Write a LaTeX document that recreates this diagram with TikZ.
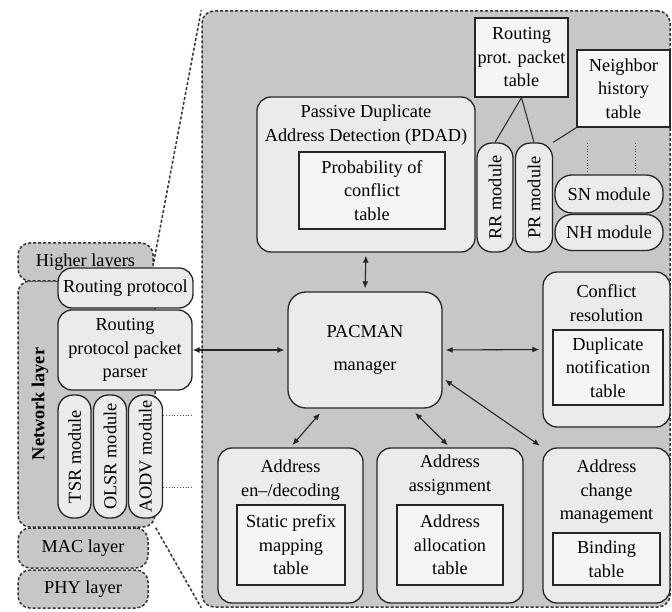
\documentclass[tikz,border=0pt]{standalone}
\usepackage{fontspec}
\setmainfont{Liberation Serif}
\usepackage{tikz}
\usetikzlibrary{arrows.meta}
\definecolor{layergray}{gray}{0.78}
\definecolor{boxgray}{gray}{0.92}
\definecolor{tablegray}{gray}{0.96}

\begin{document}
\begin{tikzpicture}[x=1pt,y=-1pt,font=\fontsize{18.3}{23.5}\selectfont,
  layer/.style={draw=black!80,dash pattern=on 3pt off 2pt,line width=1.5pt,fill=layergray,rounded corners=12pt,inner sep=0pt},
  box/.style={draw=black!85,line width=1.3pt,fill=boxgray,rounded corners=14pt,inner sep=0pt,align=center},
  pill/.style={box,rounded corners=15pt},
  tbl/.style={draw=black!85,line width=1.3pt,fill=tablegray,inner sep=0pt,align=center},
  txt/.style={inner sep=0pt,align=center},
  link/.style={line width=1.1pt,black!85,{Latex[length=7pt,width=6pt]}-{Latex[length=7pt,width=6pt]},shorten <=3pt,shorten >=3pt}]
  \useasboundingbox (0,0) rectangle (672,612);

  \node[layer,minimum width=468pt,minimum height=596pt] (zoom) at (436,309) {};

  \node[layer,minimum width=137pt,minimum height=246pt] (netlayer) at (86.5,404) {};
  \node[layer,minimum width=135pt,minimum height=38pt] (higher) at (85.5,262) {Higher layers};
  \node[layer,minimum width=130pt,minimum height=40pt] (mac) at (83,548) {MAC layer};
  \node[layer,minimum width=130pt,minimum height=38pt] (phy) at (83,589) {PHY layer};
  \node[txt] (netlabel) at (40,404) {\rotatebox{90}{\bfseries Network layer}};
  \draw[black!80,dash pattern=on 3pt off 2pt,line width=1.5pt] (higher.east) -- (zoom.north west);
  \draw[black!80,dash pattern=on 3pt off 2pt,line width=1.5pt] (netlayer.south east) -- (zoom.south west);

  \node[box,minimum width=135pt,minimum height=40pt] (rp) at (125.5,288) {Routing protocol};
  \node[box,minimum width=134pt,minimum height=80pt] (parser) at (125,350) {Routing\\protocol packet\\parser};
  \node[pill,minimum width=33pt,minimum height=123pt] (tsr) at (74.5,456.5) {\rotatebox{90}{TSR module}};
  \node[pill,minimum width=33pt,minimum height=123pt] (olsr) at (110,456.5) {\rotatebox{90}{OLSR module}};
  \node[pill,minimum width=34pt,minimum height=123pt] (aodv) at (145.5,456.5) {\rotatebox{90}{AODV module}};
  \coordinate (d1) at (192,415);
  \coordinate (d2) at (192,487);
  \draw[dotted,thick,black!70] (aodv.east |- d1) -- (d1);
  \draw[dotted,thick,black!70] (aodv.east |- d2) -- (d2);

  \node[tbl,minimum width=93pt,minimum height=79pt] (rpt) at (521.5,57.5) {Routing\\prot. packet\\table};
  \node[tbl,minimum width=93pt,minimum height=77pt] (nht) at (623.5,88.5) {Neighbor\\history\\table};

  \node[box,minimum width=218pt,minimum height=155pt] (pdad) at (366,174.5) {};
  \node[txt] (pdadtitle) at (366,125) {Passive Duplicate\\Address Detection (PDAD)};
  \node[tbl,minimum width=146pt,minimum height=77pt] (poc) at (372,190.5) {Probability of\\conflict\\table};

  \node[pill,minimum width=36pt,minimum height=109pt] (rr) at (495,197.5) {\rotatebox{90}{RR module}};
  \node[pill,minimum width=37pt,minimum height=109pt] (pr) at (534,197.5) {\rotatebox{90}{PR module}};
  \node[pill,minimum width=108pt,minimum height=38pt,rounded corners=17pt] (sn) at (609,194) {SN module};
  \node[pill,minimum width=108pt,minimum height=36pt,rounded corners=17pt] (nh) at (609,232.5) {NH module};
  \coordinate (v1) at (587,143);
  \coordinate (v2) at (635,143);
  \draw[dotted,thick,black!70] (v1) -- (v1 |- sn.north);
  \draw[dotted,thick,black!70] (v2) -- (v2 |- sn.north);
  \draw[line width=1pt,black!85] (rr.north) -- (rpt.south) -- (pr.north);
  \draw[line width=1pt,black!85] (pr.north east) -- (nht.south west);

  \node[box,minimum width=154pt,minimum height=116pt,rounded corners=18pt] (pacman) at (365,350) {PACMAN\\[10pt]manager};

  \node[box,minimum width=127pt,minimum height=155pt] (conflict) at (606.5,349.5) {};
  \node[txt] (conflicttitle) at (606.5,303) {Conflict\\resolution};
  \node[tbl,minimum width=110pt,minimum height=75pt] (dnt) at (608,367.5) {Duplicate\\notification\\table};

  \node[box,minimum width=145pt,minimum height=155pt] (encode) at (290.5,525.5) {};
  \node[txt] (encodetitle) at (290.5,480) {Address\\en--/decoding};
  \node[tbl,minimum width=108pt,minimum height=80pt] (spm) at (291,545) {Static prefix\\mapping\\table};

  \node[box,minimum width=146pt,minimum height=155pt] (assign) at (450,525.5) {};
  \node[txt] (assigntitle) at (450,475) {Address\\assignment};
  \node[tbl,minimum width=106pt,minimum height=80pt] (aat) at (450,545) {Address\\allocation\\table};

  \node[box,minimum width=127pt,minimum height=155pt] (change) at (606.5,525.5) {};
  \node[txt] (changetitle) at (606.5,492) {Address\\change\\management};
  \node[tbl,minimum width=107pt,minimum height=52pt] (bt) at (606.5,559) {Binding\\table};

  \draw[link] (pdad.south) -- (pacman.north);
  \draw[link,shorten <=0pt] (parser.east) -- (pacman.west);
  \draw[link] (pacman.east) -- (conflict.west);
  \draw[link,shorten <=6pt] (pacman.235) -- (encode.north);
  \draw[link,shorten <=6pt] (pacman.-52) -- (assign.north);
  \draw[link] (pacman.-20) -- (change.north west);
\end{tikzpicture}
\end{document}
